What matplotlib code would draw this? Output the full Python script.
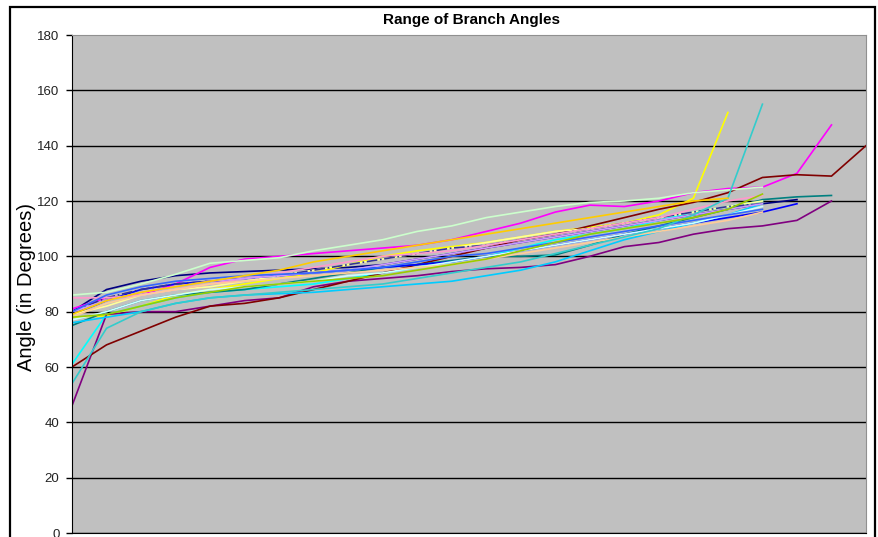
import numpy as np
import matplotlib
matplotlib.use('Agg')
import matplotlib.pyplot as plt
from matplotlib.patches import Rectangle

# sorted branch angles for each sample (degrees), one list per series
navy = [80, 88, 91, 93, 94, 94.5, 95, 95.5, 96, 97, 99, 101, 103, 105, 107, 109, 111, 113, 115, 117, 119, 120.5]
magenta = [81, 85, 86, 90, 96, 99, 100, 101, 102, 103, 104, 106, 109, 112, 116, 118.5, 118, 120, 123, 124.5, 125, 130, 147.5]
yellow = [78, 78.5, 82, 86, 88, 90, 92, 94, 97, 100, 102, 103.5, 105, 107, 109, 110.5, 112, 115, 121, 152]
cyan = [61, 79, 82, 85, 87, 88, 89, 90, 92, 94, 96, 98, 100, 103, 106, 108, 110, 113, 116, 118, 120]
purple = [46, 79, 80, 80, 82, 84, 85, 89, 91, 92, 93, 94.5, 95.5, 96, 97, 100, 103.5, 105, 108, 110, 111, 113, 120]
maroon = [60, 68, 73, 78, 82, 83, 85, 88, 91, 94, 97, 100, 103, 106, 108, 111, 114, 117, 119.5, 123, 128.5, 129.5, 129, 140]
teal = [75, 80, 84, 86, 87, 88, 90, 92, 94, 96, 97, 98.5, 100, 100, 100.5, 104, 108, 111, 114, 117, 120.5, 121.5, 122]
blue = [79, 84, 88, 90, 91, 92, 93, 94, 95, 96, 97, 98, 100, 102, 104, 106, 108, 110, 112, 114, 116, 119]
sky = [76, 78, 80, 83, 85, 86, 86.5, 87, 88, 89, 90, 91, 93, 95, 98, 102, 106, 109, 112, 115, 119]
light_cyan = [77, 80, 84, 86, 88, 89, 90, 91, 93, 94, 96, 98, 100, 102, 104, 106, 108, 110, 112, 115, 118]
light_green = [86, 87, 90, 93.5, 97.5, 98.5, 99.5, 102, 104, 106, 109, 111, 114, 116, 118, 119.5, 120, 121, 123, 124, 125]
light_yellow = [79, 82, 86, 88, 89, 91, 93, 95, 97, 99, 101, 103, 105, 107, 109, 110, 112, 114, 116, 118, 120]
pale_blue = [80, 85, 88, 90, 91, 92, 93, 95, 97, 99, 101, 103, 104, 106, 108, 110, 112, 114, 116, 118, 119]
rose = [85, 85, 86, 88, 90, 92, 94, 96, 98, 100, 101, 102, 104, 106, 108, 110, 112, 114, 117, 120, 122]
lavender = [80, 84, 87, 89, 91, 92, 93, 94, 95, 97, 99, 101, 103, 105, 107, 109, 111, 113, 115, 117, 119]
tan = [78, 83, 86, 88, 90, 91, 92, 93, 94, 95, 96, 97, 99, 101, 103, 105, 107, 109, 111, 113, 116]
royal = [80, 86, 89, 91, 92, 93, 93.5, 94, 95, 96, 98, 100, 101, 103, 105, 107, 109, 111, 113, 115, 117]
turquoise = [54, 74, 80, 83, 85, 86, 87, 88, 89, 90, 92, 94, 96, 98, 101, 104, 107, 110, 115, 121, 155]
yellow_green = [78, 79, 82, 85, 87, 89, 90, 91, 92, 93, 95, 97, 99, 102, 105, 108, 110, 112, 114, 117, 122.5]
gold = [79, 84, 87, 89, 91, 93, 95, 98, 100, 102, 104, 106, 108, 110, 112, 114, 116, 118, 120, 121]

series = [navy, magenta, yellow, cyan, purple, maroon, teal, blue, sky, light_cyan,
          light_green, light_yellow, pale_blue, rose, lavender, tan, royal,
          turquoise, yellow_green, gold]
colors = ['#000080', '#FF00FF', '#FFFF00', '#00FFFF', '#800080', '#800000', '#008080',
          '#0000FF', '#00CCFF', '#CCFFFF', '#CCFFCC', '#FFFF99', '#333399', '#FF99CC',
          '#CC99FF', '#FFCC99', '#3366FF', '#33CCCC', '#99CC00', '#FFCC00']
styles = ['-'] * 12 + ['-.'] + ['-'] * 7

yticks = [0, 20, 40, 60, 80, 100, 120, 140, 160, 180]
n_cats = max(len(s) for s in series)

fig = plt.figure(figsize=(8.79, 5.37), dpi=100)
fig.patch.set_facecolor('white')
ax = fig.add_axes([72 / 879, 4 / 537, 794 / 879, 498 / 537])
ax.set_facecolor('#C0C0C0')

for vals, col, ls in zip(series, colors, styles):
    ax.plot(np.arange(len(vals)), vals, color=col, linestyle=ls, linewidth=1.2)

ax.set_xlim(0, n_cats - 1)
ax.set_ylim(0, 180)
ax.set_yticks(yticks)
ax.set_yticklabels([str(t) for t in yticks], fontsize=9.5, color='#222222',
                   family='Liberation Sans')
ax.tick_params(axis='y', length=4, width=1, pad=5, color='black')
ax.set_xticks([])
ax.yaxis.grid(True, color='black', linewidth=1.0)
ax.get_ygridlines()[-1].set_visible(False)
ax.set_axisbelow(True)

ax.spines['left'].set_color('black')
ax.spines['bottom'].set_color('black')
ax.spines['top'].set_color('#909090')
ax.spines['right'].set_color('#909090')

fig.text(472 / 879, 1 - 20 / 537, 'Range of Branch Angles', ha='center', va='center',
         fontsize=11, fontweight='bold', family='Liberation Sans')
fig.text(27 / 879, 1 - 287 / 537, 'Angle (in Degrees)', rotation=90, ha='center',
         va='center', fontsize=14.5, family='Liberation Sans')

# chart border
fig.patches.append(Rectangle((10 / 879, -0.1), 865 / 879, 1.1 - 7 / 537, fill=False,
                             edgecolor='black', linewidth=1.6,
                             transform=fig.transFigure, figure=fig))

plt.savefig('out.png', dpi=100)
